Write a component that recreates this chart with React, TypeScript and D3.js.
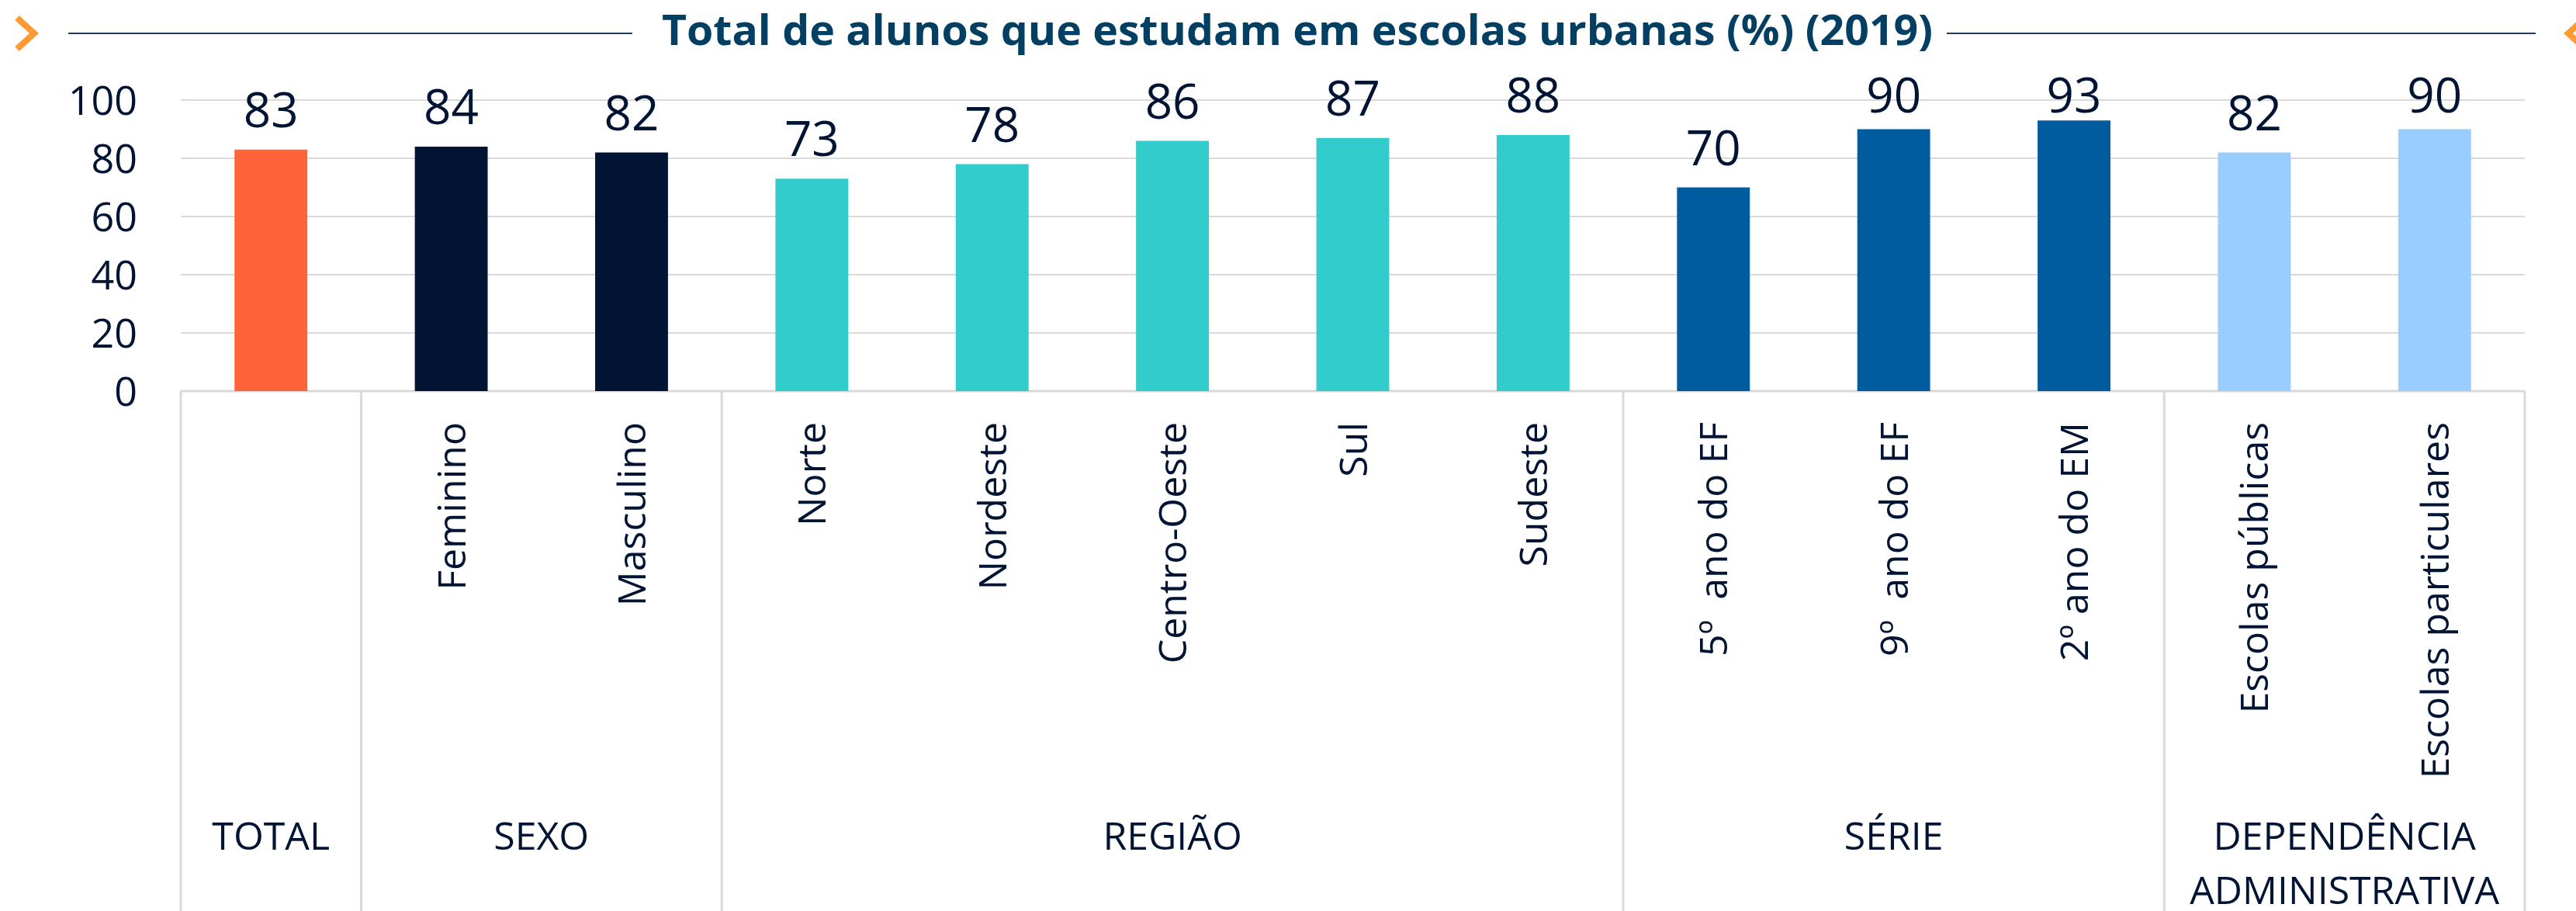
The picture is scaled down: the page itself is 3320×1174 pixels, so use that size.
import React from "react";
import * as d3 from "d3";

const TITLE = "Total de alunos que estudam em escolas urbanas (%) (2019)";
const categories = [
  "TOTAL_", "Feminino", "Masculino", "Norte", "Nordeste", "Centro-Oeste", "Sul", "Sudeste",
  "5º  ano do EF", "9º  ano do EF", "2º ano do EM", "Escolas públicas", "Escolas particulares",
];
const values = [83, 84, 82, 73, 78, 86, 87, 88, 70, 90, 93, 82, 90];
const groupOf = [0, 1, 1, 2, 2, 2, 2, 2, 3, 3, 3, 4, 4];
const groups = [["TOTAL"], ["SEXO"], ["REGIÃO"], ["SÉRIE"], ["DEPENDÊNCIA", "ADMINISTRATIVA"]];
const groupColors = ["#FF6339", "#011433", "#33CCCC", "#005B9F", "#99CCFF"];
const yTicks = [0, 20, 40, 60, 80, 100];

const W = 3320, H = 1174;
const X0 = 233, X1 = 3254, Y0 = 504, Y100 = 129;
const TEXT = "#011433";
const FONT = "'Open Sans', 'Noto Sans', sans-serif";

export default function App() {
  const x = d3.scaleBand<number>()
    .domain(d3.range(categories.length))
    .range([X0, X1])
    .paddingInner(0.596)
    .paddingOuter(0.298);
  const y = d3.scaleLinear().domain([0, 100]).range([Y0, Y100]);
  const step = x.step();
  const cx = (i: number) => (x(i) as number) + x.bandwidth() / 2;

  // group boundaries
  const bounds: number[] = [0];
  groupOf.forEach((g, i) => {
    if (i > 0 && g !== groupOf[i - 1]) bounds.push(i);
  });
  bounds.push(categories.length);
  const bx = (k: number) => X0 + k * step;

  return (
    <svg width={W} height={H} style={{ position: "absolute", left: 0, top: 0, background: "#fff" }}
      fontFamily={FONT}>
      <rect width={W} height={H} fill="#fff" />
      {/* title */}
      <line x1={88} x2={815} y1={43} y2={43} stroke="#1F3B57" strokeWidth={2} />
      <line x1={2509} x2={3268} y1={43} y2={43} stroke="#1F3B57" strokeWidth={2} />
      <path d="M22,23 L44,43 L22,63" fill="none" stroke="#FF9933" strokeWidth={8} />
      <path d="M3332,23 L3310,43 L3332,63" fill="none" stroke="#FF9933" strokeWidth={8} />
      <text x={(853 + 2491) / 2} y={58} textAnchor="middle" fontWeight={700} fontSize={53}
        fill="#033F63" textLength={1638} lengthAdjust="spacingAndGlyphs">{TITLE}</text>

      {/* grid */}
      {yTicks.map((t) => (
        <g key={t}>
          <line x1={X0} x2={X1} y1={y(t)} y2={y(t)} stroke="#D9D9D9" strokeWidth={t === 0 ? 3 : 2} />
          <text x={177} y={y(t)} dy="0.36em" textAnchor="end" fontSize={52} fill={TEXT}>{t}</text>
        </g>
      ))}

      {/* bars */}
      {values.map((v, i) => (
        <rect key={i} x={x(i)} y={y(v)} width={x.bandwidth()} height={Y0 - y(v)}
          fill={groupColors[groupOf[i]]} />
      ))}
      {values.map((v, i) => (
        <text key={"v" + i} x={cx(i)} y={Math.max(y(v) - 29, 145)} textAnchor="middle"
          fontSize={62} fill={TEXT}>{v}</text>
      ))}

      {/* category table */}
      {bounds.map((k) => (
        <line key={"b" + k} x1={bx(k)} x2={bx(k)} y1={Y0} y2={H} stroke="#D9D9D9" strokeWidth={3} />
      ))}
      {categories.map((c, i) =>
        groupOf[i] === 0 ? null : (
          <text key={"c" + i} transform={`translate(${cx(i)},${544}) rotate(-90)`} dy="0.36em"
            textAnchor="end" fontSize={50} fill={TEXT} style={{ whiteSpace: "pre" }}>{c}</text>
        )
      )}
      {groups.map((lines, g) => {
        const gx = (bx(bounds[g]) + bx(bounds[g + 1])) / 2;
        return (
          <text key={"g" + g} x={gx} y={1095} textAnchor="middle" fontSize={50} fill={TEXT}>
            {lines.map((l, j) => (
              <tspan key={j} x={gx} dy={j === 0 ? 0 : 70}>{l}</tspan>
            ))}
          </text>
        );
      })}
    </svg>
  );
}
